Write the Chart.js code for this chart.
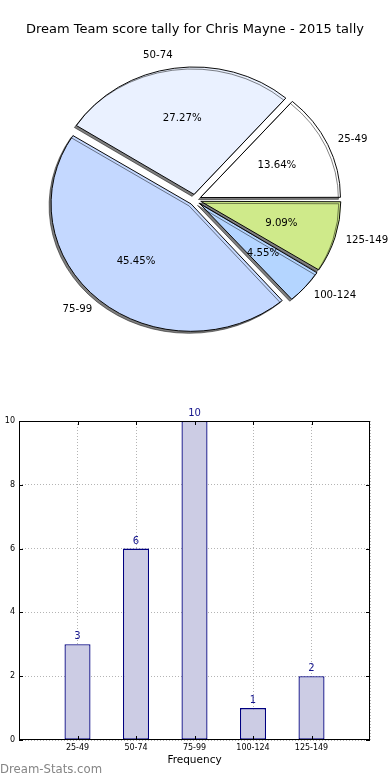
<!DOCTYPE html>
<html lang="en">
<head>
<meta charset="UTF-8">
<title>Dream Team score tally - Chris Mayne 2015</title>
<style>
  body { margin: 0; background: #fff; }
  #wrap { position: relative; width: 390px; height: 780px; overflow: hidden; }
  #pieChart { position: absolute; left: 0; top: 0; }
  #barChart { position: absolute; left: 0; top: 400px; }
  .watermark { position: absolute; left: 0; top: 762px; font: 11.7px "DejaVu Sans"; color: #858585; }
</style>
</head>
<body>
<div id="wrap">
  <canvas id="pieChart" width="390" height="395"></canvas>
  <canvas id="barChart" width="390" height="380"></canvas>
  <div class="watermark">Dream-Stats.com</div>
</div>

<script src="https://cdn.jsdelivr.net/npm/chart.js"></script>
<script>
// data
const scoreRanges = ['25-49', '50-74', '75-99', '100-124', '125-149'];
const tallyCounts = [3, 6, 10, 1, 2];
const sliceColors = ['#ffffff', '#eaf1ff', '#c4d8ff', '#b4d5ff', '#cfea8a'];
const yTickValues = [0, 2, 4, 6, 8, 10];

// pie look: radius, vertical squash (the original is a bit oval), explode distance
const PIE_R = 140;
const SQUASH = 0.91;
const EXPLODE = 6;

const pieLook = {
    id: 'pieLook',
    beforeDatasetsDraw(chart) {
        const ctx = chart.ctx;
        const arcs = chart.getDatasetMeta(0).data;
        const cx = arcs[0].x, cy = arcs[0].y;
        // chart.js grows offset arcs a little, take that back so all slices share one radius
        arcs.forEach(a => {
            const circ = a.endAngle - a.startAngle;
            a.outerRadius = PIE_R - EXPLODE * (1 - Math.sin(Math.min(Math.PI, circ)));
        });
        ctx.save();
        // mirror so slices run counter-clockwise from 3 o'clock, and squash vertically
        ctx.translate(cx, cy);
        ctx.scale(-1, SQUASH);
        ctx.translate(-cx, -cy);
        ctx.shadowColor = 'rgba(0,0,0,0.5)';
        ctx.shadowOffsetX = -2;
        ctx.shadowOffsetY = 2;
    },
    afterDatasetsDraw(chart) {
        const ctx = chart.ctx;
        ctx.restore();
        const arcs = chart.getDatasetMeta(0).data;
        const cx = arcs[0].x, cy = arcs[0].y;
        const total = tallyCounts.reduce((s, v) => s + v, 0);
        ctx.save();
        ctx.fillStyle = '#000';
        ctx.font = '10.2px "DejaVu Sans"';
        ctx.textBaseline = 'middle';
        arcs.forEach((a, i) => {
            const mid = (a.startAngle + a.endAngle) / 2;
            const dx = -Math.cos(mid);
            const dy = Math.sin(mid) * SQUASH;
            const lr = 1.1 * PIE_R + 3;
            ctx.textAlign = dx > 0 ? 'left' : 'right';
            ctx.fillText(scoreRanges[i], cx + dx * lr, cy + dy * (lr + 3));
            const pr = EXPLODE + 0.6 * PIE_R;
            ctx.textAlign = 'center';
            ctx.fillText((tallyCounts[i] / total * 100).toFixed(2) + '%', cx + dx * pr, cy + dy * pr);
        });
        ctx.restore();
    }
};

new Chart(document.getElementById('pieChart'), {
    type: 'pie',
    data: {
        labels: scoreRanges,
        datasets: [{
            data: tallyCounts,
            backgroundColor: sliceColors,
            borderColor: '#000',
            borderWidth: 1,
            offset: EXPLODE * 4,
            clip: false
        }]
    },
    options: {
        responsive: false,
        animation: false,
        events: [],
        rotation: 270,
        radius: PIE_R,
        layout: { padding: { top: 0, bottom: 37, left: 0, right: 0 } },
        plugins: {
            legend: { display: false },
            tooltip: { enabled: false },
            title: {
                display: true,
                text: 'Dream Team score tally for Chris Mayne - 2015 tally',
                color: '#000',
                font: { family: 'DejaVu Sans', size: 13, weight: 'normal', lineHeight: 1.2 },
                padding: { top: 22, bottom: 4 }
            }
        }
    },
    plugins: [pieLook]
});

// bar chart: one empty slot on each side like the original axis
const barLabels = ['', ...scoreRanges, ''];
const barValues = [null, ...tallyCounts, null];

const plotFrame = {
    id: 'plotFrame',
    afterDatasetsDraw(chart) {
        const ctx = chart.ctx;
        const bars = chart.getDatasetMeta(0).data;
        ctx.save();
        ctx.fillStyle = '#14148c';
        ctx.font = '10px "DejaVu Sans"';
        ctx.textAlign = 'center';
        ctx.textBaseline = 'alphabetic';
        bars.forEach((b, i) => {
            if (barValues[i] == null) return;
            ctx.fillText(String(barValues[i]), b.x, b.y - 5);
        });
        ctx.restore();
    },
    afterDraw(chart) {
        const { ctx, chartArea: a, scales } = chart;
        ctx.save();
        ctx.strokeStyle = '#000';
        ctx.lineWidth = 1;
        ctx.strokeRect(a.left + 0.5, a.top + 0.5, a.right - a.left - 1, a.bottom - a.top - 1);
        ctx.beginPath();
        yTickValues.forEach(v => {
            const y = Math.round(scales.y.getPixelForValue(v)) + 0.5;
            ctx.moveTo(a.left, y); ctx.lineTo(a.left + 4, y);
            ctx.moveTo(a.right, y); ctx.lineTo(a.right - 4, y);
        });
        scoreRanges.forEach((c, i) => {
            const x = Math.round(scales.x.getPixelForValue(i + 1)) + 0.5;
            ctx.moveTo(x, a.bottom); ctx.lineTo(x, a.bottom - 4);
            ctx.moveTo(x, a.top); ctx.lineTo(x, a.top + 4);
        });
        ctx.stroke();
        ctx.restore();
    }
};

new Chart(document.getElementById('barChart'), {
    type: 'bar',
    data: {
        labels: barLabels,
        datasets: [{
            data: barValues,
            backgroundColor: '#ccccE4',
            borderColor: '#000080',
            borderWidth: 1.3,
            borderSkipped: false,
            barPercentage: 0.445,
            categoryPercentage: 1
        }]
    },
    options: {
        responsive: false,
        animation: false,
        events: [],
        layout: { padding: { top: 21, right: 20, left: 0, bottom: 0 } },
        plugins: { legend: { display: false }, tooltip: { enabled: false } },
        scales: {
            x: {
                offset: false,
                z: 1,
                grid: { color: '#b4b4b4', drawTicks: false, offset: false },
                border: { display: false, dash: [1, 2] },
                ticks: { color: '#000', font: { family: 'DejaVu Sans', size: 8 }, padding: 3, maxRotation: 0, autoSkip: false },
                title: {
                    display: true,
                    text: 'Frequency',
                    color: '#000',
                    font: { family: 'DejaVu Sans', size: 10.5 },
                    padding: { top: 0, bottom: 13 }
                },
                afterFit(s) { s.height = 40; }
            },
            y: {
                min: yTickValues[0],
                max: yTickValues[yTickValues.length - 1],
                z: 1,
                grid: { color: '#b4b4b4', drawTicks: false },
                border: { display: false, dash: [1, 2] },
                ticks: { stepSize: 2, color: '#000', font: { family: 'DejaVu Sans', size: 8 }, padding: 4 },
                afterFit(s) { s.width = 19; }
            }
        }
    },
    plugins: [plotFrame]
});
</script>
</body>
</html>
